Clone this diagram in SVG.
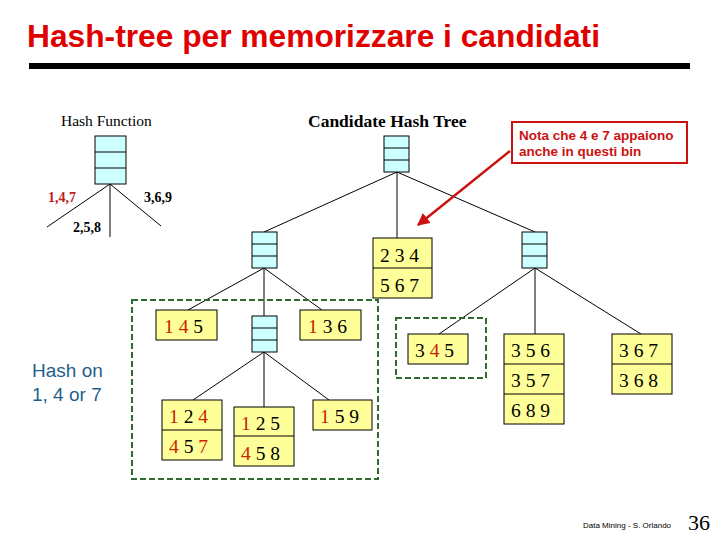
<svg xmlns="http://www.w3.org/2000/svg" width="720" height="540" viewBox="0 0 720 540">
<style>
.hb{fill:#ccffff;stroke:#000;stroke-width:1}
.yb{fill:#ffff99;stroke:#000;stroke-width:1}
.ln{stroke:#000;stroke-width:1;fill:none}
.dg{font-family:"Liberation Serif","Times New Roman",serif;font-size:19.5px;fill:#000}
.r{fill:#cc2200}
.dash{fill:none;stroke:#2e6b2e;stroke-width:2;stroke-dasharray:6,3}
.lbl{font-family:"Liberation Serif","Times New Roman",serif;font-size:14px;font-weight:bold;fill:#000}
</style>
<defs>
<marker id="ah" viewBox="0 0 10 10" refX="9" refY="5" markerWidth="5" markerHeight="5" orient="auto" markerUnits="strokeWidth">
<path d="M0,0 L10,5 L0,10 z" fill="#cc1111"/>
</marker>
</defs>
<rect width="720" height="540" fill="#fff"/>
<text x="27" y="47" font-family="'Liberation Sans',Arial,sans-serif" font-size="31" font-weight="bold" fill="#e00000" textLength="573" lengthAdjust="spacingAndGlyphs">Hash-tree per memorizzare i candidati</text>
<rect x="29" y="63" width="661" height="6" fill="#000"/>

<g id="connectors">
<line class="ln" x1="110" y1="184" x2="47" y2="227"/>
<line class="ln" x1="110" y1="184" x2="110" y2="237"/>
<line class="ln" x1="110" y1="184" x2="161" y2="226"/>
<line class="ln" x1="397" y1="172" x2="264" y2="232"/>
<line class="ln" x1="397" y1="172" x2="397" y2="238"/>
<line class="ln" x1="397" y1="172" x2="535" y2="232"/>
<line class="ln" x1="264" y1="268" x2="188" y2="310"/>
<line class="ln" x1="264" y1="268" x2="264" y2="316"/>
<line class="ln" x1="264" y1="268" x2="322" y2="310"/>
<line class="ln" x1="264" y1="352" x2="193" y2="400"/>
<line class="ln" x1="264" y1="352" x2="264" y2="407"/>
<line class="ln" x1="264" y1="352" x2="329" y2="400"/>
<line class="ln" x1="535" y1="268" x2="439" y2="334"/>
<line class="ln" x1="535" y1="268" x2="535" y2="334"/>
<line class="ln" x1="535" y1="268" x2="641" y2="334"/>
<line x1="510" y1="151" x2="418" y2="225" stroke="#cc1111" stroke-width="2.5" marker-end="url(#ah)"/>
</g>

<g id="hash-function">
<text x="61" y="126" font-family="'Liberation Serif','Times New Roman',serif" font-size="15.5" fill="#000">Hash Function</text>
<rect class="hb" x="95" y="136" width="31" height="48"/>
<line class="ln" x1="95" y1="152" x2="126" y2="152"/>
<line class="ln" x1="95" y1="168" x2="126" y2="168"/>
<text class="lbl" x="48" y="202" fill="#c02020" style="fill:#c02020">1,4,7</text>
<text class="lbl" x="144" y="202">3,6,9</text>
<text class="lbl" x="73" y="232">2,5,8</text>
</g>

<g id="title-tree">
<text x="308" y="127" font-family="'Liberation Serif','Times New Roman',serif" font-size="17.5" font-weight="bold" fill="#000">Candidate Hash Tree</text>
</g>

<g id="root">
<rect class="hb" x="384" y="136" width="25" height="36"/>
<line class="ln" x1="384" y1="148" x2="409" y2="148"/>
<line class="ln" x1="384" y1="160" x2="409" y2="160"/>
</g>

<g id="hash-left">
<rect class="hb" x="252" y="232" width="25" height="36"/>
<line class="ln" x1="252" y1="244" x2="277" y2="244"/>
<line class="ln" x1="252" y1="256" x2="277" y2="256"/>
</g>

<g id="hash-right">
<rect class="hb" x="522" y="232" width="25" height="36"/>
<line class="ln" x1="522" y1="244" x2="547" y2="244"/>
<line class="ln" x1="522" y1="256" x2="547" y2="256"/>
</g>

<g id="hash-mid">
<rect class="hb" x="252" y="316" width="25" height="36"/>
<line class="ln" x1="252" y1="328" x2="277" y2="328"/>
<line class="ln" x1="252" y1="340" x2="277" y2="340"/>
</g>

<g id="leaf-234">
<rect class="yb" x="373" y="238" width="59" height="60"/>
<line class="ln" x1="373" y1="268" x2="432" y2="268"/>
<text class="dg" x="380" y="262">2 3 4</text>
<text class="dg" x="380" y="292">5 6 7</text>
</g>

<g id="leaf-145">
<rect class="yb" x="156" y="310" width="61" height="30"/>
<text class="dg" x="164" y="333"><tspan class="r">1 4</tspan> 5</text>
</g>

<g id="leaf-136">
<rect class="yb" x="300" y="310" width="61" height="30"/>
<text class="dg" x="308" y="333"><tspan class="r">1</tspan> 3 6</text>
</g>

<g id="leaf-124">
<rect class="yb" x="162" y="400" width="60" height="60"/>
<line class="ln" x1="162" y1="430" x2="222" y2="430"/>
<text class="dg" x="169" y="423"><tspan class="r">1</tspan> 2 <tspan class="r">4</tspan></text>
<text class="dg" x="169" y="453"><tspan class="r">4</tspan> 5 <tspan class="r">7</tspan></text>
</g>

<g id="leaf-125">
<rect class="yb" x="234" y="407" width="60" height="59"/>
<line class="ln" x1="234" y1="436" x2="294" y2="436"/>
<text class="dg" x="241" y="430"><tspan class="r">1</tspan> 2 5</text>
<text class="dg" x="241" y="460"><tspan class="r">4</tspan> 5 8</text>
</g>

<g id="leaf-159">
<rect class="yb" x="313" y="400" width="59" height="30"/>
<text class="dg" x="320" y="423"><tspan class="r">1</tspan> 5 9</text>
</g>

<g id="leaf-345">
<rect class="yb" x="408" y="334" width="60" height="30"/>
<text class="dg" x="415" y="357">3 <tspan class="r">4</tspan> 5</text>
</g>

<g id="leaf-356">
<rect class="yb" x="504" y="334" width="60" height="90"/>
<line class="ln" x1="504" y1="364" x2="564" y2="364"/>
<line class="ln" x1="504" y1="394" x2="564" y2="394"/>
<text class="dg" x="511" y="357">3 5 6</text>
<text class="dg" x="511" y="387">3 5 7</text>
<text class="dg" x="511" y="417">6 8 9</text>
</g>

<g id="leaf-367">
<rect class="yb" x="612" y="334" width="60" height="60"/>
<line class="ln" x1="612" y1="364" x2="672" y2="364"/>
<text class="dg" x="619" y="357">3 6 7</text>
<text class="dg" x="619" y="387">3 6 8</text>
</g>

<g id="dashed-regions">
<rect class="dash" x="132" y="300" width="246" height="179"/>
<rect class="dash" x="396" y="318" width="90" height="60"/>
</g>

<g id="hash-on-label">
<text font-family="'Liberation Sans',Arial,sans-serif" font-size="19" fill="#1f5f8b"><tspan x="32" y="377">Hash on</tspan><tspan x="32" y="401">1, 4 or 7</tspan></text>
</g>

<g id="note">
<rect x="512" y="122" width="175" height="41" fill="#fff" stroke="#cc1111" stroke-width="2"/>
<text font-family="'Liberation Sans',Arial,sans-serif" font-size="13.5" font-weight="bold" fill="#cc1111"><tspan x="519" y="140">Nota che 4 e 7 appaiono</tspan><tspan x="519" y="156">anche in questi bin</tspan></text>
</g>

<g id="footer">
<text x="583" y="528" font-family="'Liberation Sans',Arial,sans-serif" font-size="8" fill="#000">Data Mining - S. Orlando</text>
<text x="688" y="530" font-family="'Liberation Serif','Times New Roman',serif" font-size="22" fill="#000">36</text>
</g>
</svg>
